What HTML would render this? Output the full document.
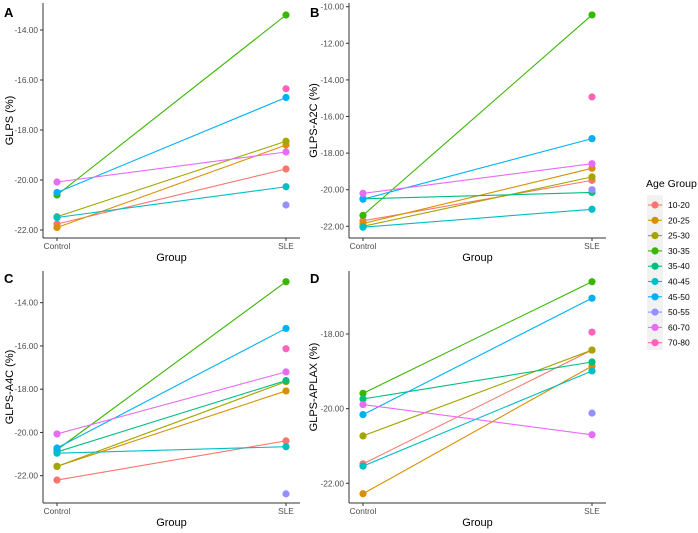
<!DOCTYPE html>
<html><head><meta charset="utf-8">
<style>
body{margin:0;background:#fff;}
svg{display:block;font-family:"Liberation Sans",sans-serif;}
</style></head>
<body>
<svg id="chart" width="698" height="533" viewBox="0 0 698 533" xmlns="http://www.w3.org/2000/svg"></svg>
<script>
const groups = ["10-20","20-25","25-30","30-35","35-40","40-45","45-50","50-55","60-70","70-80"];
const colors = ["#F8766D","#D89000","#A3A500","#39B600","#00BF7D","#00BFC4","#00B0F6","#9590FF","#E76BF3","#FF62BC"];
const categories = ["Control","SLE"];
// Panel A: GLPS
const aControl = [-21.76,-21.9,-21.47,-20.6,null,-21.5,-20.5,null,-20.08,null];
const aSLE     = [-19.56,-18.6,-18.45,-13.4,null,-20.27,-16.7,-21.0,-18.88,-16.35];
const aTicks = [-14,-16,-18,-20,-22];
// Panel B: GLPS-A2C
const bControl = [-21.7,-21.85,-22.0,-21.4,-20.5,-22.05,-20.52,null,-20.2,null];
const bSLE     = [-19.49,-18.83,-19.3,-10.45,-20.15,-21.07,-17.21,-20.0,-18.58,-14.93];
const bTicks = [-10,-12,-14,-16,-18,-20,-22];
// Panel C: GLPS-A4C
const cControl = [-22.2,-21.57,-21.57,-20.8,-20.9,-20.96,-20.72,null,-20.07,null];
const cSLE     = [-20.39,-18.08,-17.65,-13.03,-17.6,-20.66,-15.19,-22.84,-17.2,-16.13];
const cTicks = [-14,-16,-18,-20,-22];
// Panel D: GLPS-APLAX
const dControl = [-21.48,-22.28,-20.73,-19.59,-19.74,-21.54,-20.16,null,-19.89,null];
const dSLE     = [-18.43,-18.86,-18.43,-16.6,-18.75,-18.99,-17.04,-20.12,-20.7,-17.95];
const dTicks = [-18,-20,-22];

const NS="http://www.w3.org/2000/svg";
const svg=document.getElementById("chart");
function mk(tag,attrs,parent){const e=document.createElementNS(NS,tag);for(const k in attrs)e.setAttribute(k,attrs[k]);(parent||svg).appendChild(e);return e;}

const panels=[
 {id:"a",letter:"A",title:"GLPS (%)",ctrl:aControl,sle:aSLE,ticks:aTicks,ax:43,right:300,top:3,bot:238,v1:-14,p1:30,v2:-22,p2:230,lx:4,ly:17,tx:9},
 {id:"b",letter:"B",title:"GLPS-A2C (%)",ctrl:bControl,sle:bSLE,ticks:bTicks,ax:349,right:606,top:3,bot:238,v1:-10,p1:6.7,v2:-22,p2:226.3,lx:310,ly:17,tx:313},
 {id:"c",letter:"C",title:"GLPS-A4C (%)",ctrl:cControl,sle:cSLE,ticks:cTicks,ax:43,right:300,top:271,bot:503,v1:-14,p1:302.7,v2:-22,p2:475.7,lx:4,ly:283,tx:9},
 {id:"d",letter:"D",title:"GLPS-APLAX (%)",ctrl:dControl,sle:dSLE,ticks:dTicks,ax:349,right:606,top:271,bot:503,v1:-18,p1:334,v2:-22,p2:483.3,lx:310,ly:283,tx:313}
];

panels.forEach(p=>{
  const g=mk("g",{});
  
  
  const y=v=>p.p1+(v-p.v1)*(p.p2-p.p1)/(p.v2-p.v1);
  const xs=[p.ax+14,p.ax+243];
  const x=i=>xs[i];
  const lab=mk("text",{x:p.lx,y:p.ly,"font-size":13,"font-weight":"bold",fill:"#000"},g);
  lab.textContent=p.letter;
  
  
  const ya=mk("line",{x1:p.ax,y1:p.top,x2:p.ax,y2:p.bot,stroke:"#333","stroke-width":1},g);
  
  
  const xa=mk("line",{x1:p.ax,y1:p.bot,x2:p.right,y2:p.bot,stroke:"#333","stroke-width":1},g);
  
  
  p.ticks.forEach(t=>{
    const yy=y(t);
    mk("line",{x1:p.ax-3,y1:yy,x2:p.ax,y2:yy,stroke:"#333","stroke-width":1},g);
    const tl=mk("text",{x:p.ax-5,y:yy+3,"font-size":8.3,fill:"#4d4d4d","text-anchor":"end"},g);
    tl.textContent=t.toFixed(2);
    
    
  });
  categories.forEach((c,i)=>{
    mk("line",{x1:x(i),y1:p.bot,x2:x(i),y2:p.bot+3,stroke:"#333","stroke-width":1},g);
    const tl=mk("text",{x:x(i),y:p.bot+11,"font-size":8.3,fill:"#4d4d4d","text-anchor":"middle"},g);
    tl.textContent=c;
    
    
  });
  const xt=mk("text",{x:(x(0)+x(1))/2,y:p.bot+23,"font-size":11,fill:"#000","text-anchor":"middle"},g);
  xt.textContent="Group";
  
  
  const cy=(p.top+p.bot)/2;
  const yt=mk("text",{x:p.tx,y:cy,"font-size":11,fill:"#000","text-anchor":"middle",transform:`rotate(-90 ${p.tx} ${cy})`,dy:"0.35em"},g);
  yt.textContent=p.title;
  
  
  groups.forEach((gr,k)=>{
    if(p.ctrl[k]!=null && p.sle[k]!=null){
      const ln=mk("line",{x1:x(0),y1:y(p.ctrl[k]),x2:x(1),y2:y(p.sle[k]),stroke:colors[k],"stroke-width":1.1},g);
      
      
    }
  });
  groups.forEach((gr,k)=>{
    [p.ctrl,p.sle].forEach((arr,i)=>{
      if(arr[k]==null)return;
      const pt=mk("circle",{cx:x(i),cy:y(arr[k]),r:3.6,fill:colors[k]},g);
      
      
    });
  });
});

const lg=mk("g",{});


const lt=mk("text",{x:646,y:187,"font-size":10.5,fill:"#000"},lg);
lt.textContent="Age Group";


mk("rect",{x:647,y:195,width:16,height:155,fill:"#f2f2f2"},lg);
groups.forEach((gr,k)=>{
  const yy=205+k*15.3;
  const e=mk("g",{},lg);
  
  
  mk("line",{x1:648,y1:yy,x2:662,y2:yy,stroke:colors[k],"stroke-width":1.1},e);
  mk("circle",{cx:655,cy:yy,r:3.6,fill:colors[k]},e);
  const t=mk("text",{x:668,y:yy+3,"font-size":8.5,fill:"#000"},e);
  t.textContent=gr;
});
</script>
</body></html>
